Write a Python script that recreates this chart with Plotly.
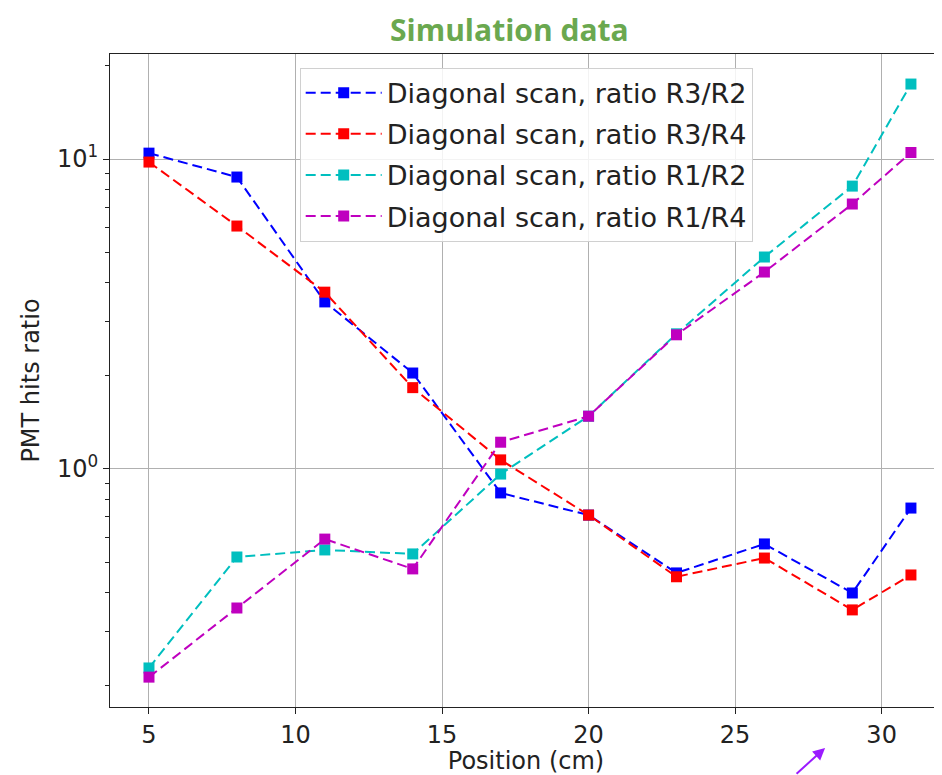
import plotly.graph_objects as go

positions = [5, 8, 11, 14, 17, 20, 23, 26, 29, 31]
ratio_r3_r2 = [10.45, 8.75, 3.46, 2.04, 0.837, 0.71, 0.462, 0.573, 0.398, 0.748]
ratio_r3_r4 = [9.78, 6.08, 3.72, 1.83, 1.07, 0.71, 0.449, 0.516, 0.351, 0.455]
ratio_r1_r2 = [0.228, 0.520, 0.548, 0.532, 0.963, 1.48, 2.73, 4.83, 8.18, 17.46]
ratio_r1_r4 = [0.213, 0.356, 0.594, 0.476, 1.22, 1.48, 2.71, 4.32, 7.16, 10.5]

series_names = [
    "Diagonal scan, ratio R3/R2",
    "Diagonal scan, ratio R3/R4",
    "Diagonal scan, ratio R1/R2",
    "Diagonal scan, ratio R1/R4",
]
series_values = [ratio_r3_r2, ratio_r3_r4, ratio_r1_r2, ratio_r1_r4]
colors = ["#0000ff", "#ff0000", "#00bfbf", "#bf00bf"]

x_ticks = [5, 10, 15, 20, 25, 30]
y_ticks = [1, 10]
y_tick_text = ["10<sup>0</sup>", "10<sup>1</sup>"]
y_minor = [0.2, 0.3, 0.4, 0.5, 0.6, 0.7, 0.8, 0.9, 2, 3, 4, 5, 6, 7, 8, 9, 20]

fig = go.Figure()
for i, (name, vals, col) in enumerate(zip(series_names, series_values, colors)):
    fig.add_trace(go.Scatter(
        x=positions, y=vals, name=name, mode="lines+markers",
        legendgroup=f"g{i}",
        line=dict(color=col, width=2, dash="10px,5px"),
        marker=dict(symbol="square", size=11, color=col),
    ))

font_family = "DejaVu Sans"
fig.update_layout(
    width=934, height=767,
    margin=dict(l=102, r=0, t=46, b=68),
    paper_bgcolor="white", plot_bgcolor="white",
    font=dict(family=font_family, size=24, color="#222222"),
    showlegend=True,
    legend=dict(
        x=0.228, y=0.979, xanchor="left", yanchor="top",
        bgcolor="rgba(255,255,255,0.85)", bordercolor="#d0d0d0", borderwidth=1,
        font=dict(family=font_family, size=27, color="#222222"),
        tracegroupgap=3, itemwidth=76,
    ),
    xaxis=dict(
        range=[3.67, 32.06], tickvals=x_ticks,
        showgrid=True, gridcolor="#b0b0b0", gridwidth=1,
        showline=True, linecolor="#222222", linewidth=1, mirror=True,
        ticks="outside", ticklen=6, tickcolor="#222222",
        tickfont=dict(size=24), zeroline=False,
        title=dict(text="Position (cm)", font=dict(size=24), standoff=4),
    ),
    yaxis=dict(
        type="log", range=[-0.768, 1.339],
        tickvals=y_ticks, ticktext=y_tick_text,
        showgrid=True, gridcolor="#b0b0b0", gridwidth=1,
        showline=True, linecolor="#222222", linewidth=1, mirror=False,
        ticks="outside", ticklen=6, tickcolor="#222222",
        tickfont=dict(size=24), zeroline=False,
        minor=dict(tickvals=y_minor, ticks="outside", ticklen=4,
                   tickcolor="#222222", showgrid=False),
        title=dict(text="PMT hits ratio", font=dict(size=24), standoff=10),
    ),
)

fig.add_annotation(
    text="<b>Simulation data</b>", xref="paper", yref="paper",
    x=0.48, y=1.0704, xanchor="center", yanchor="top", showarrow=False,
    borderpad=0,
    font=dict(family="Open Sans", size=30, color="#6aa84f"),
)

fig.add_annotation(
    text="", xref="x", yref="paper", x=28.07, y=-0.0628,
    showarrow=True, arrowhead=2, arrowsize=1.2, arrowwidth=2,
    arrowcolor="#9b1bff", ax=-30, ay=27,
)

fig.write_html("out.html")
